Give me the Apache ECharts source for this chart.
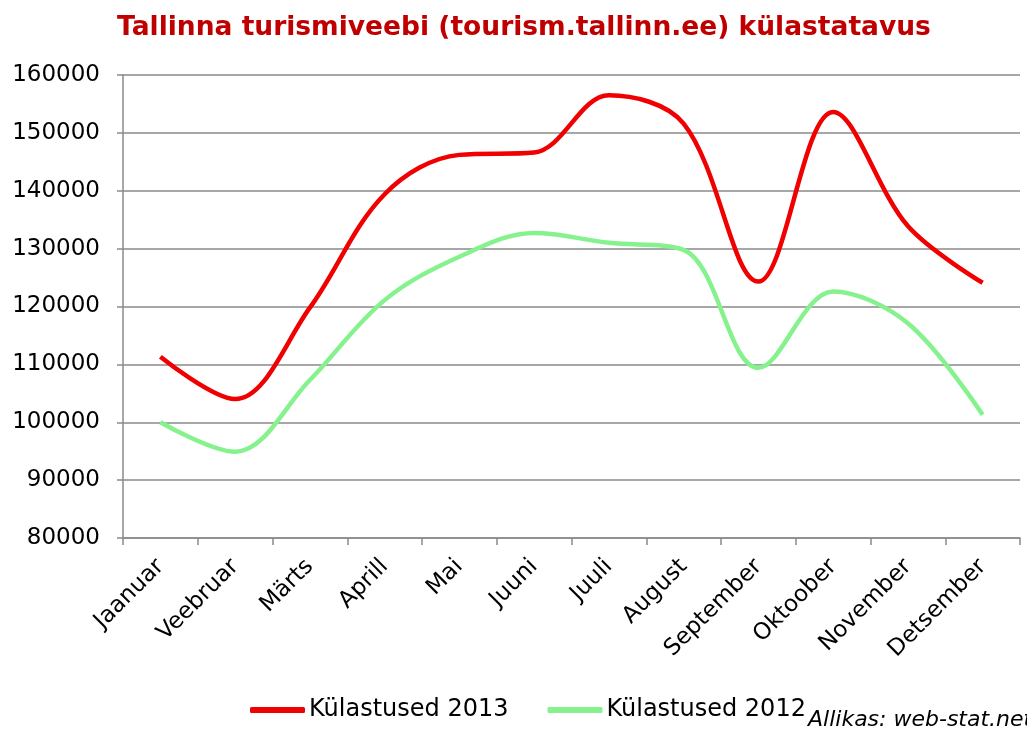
<!DOCTYPE html>
<html>
<head>
<meta charset="utf-8">
<script src="https://cdn.jsdelivr.net/npm/echarts@6/dist/echarts.min.js"></script>
<style>
  html, body { margin: 0; padding: 0; background: #fff; }
  #chart { width: 1027px; height: 731px; }
</style>
</head>
<body>
<div id="chart"></div>
<script>
const months = ["Jaanuar", "Veebruar", "Märts", "Aprill", "Mai", "Juuni",
  "Juuli", "August", "September", "Oktoober", "November", "Detsember"];
const visits2013 = [111300, 104000, 119800, 139400, 146200, 146600,
  156500, 151600, 124300, 153600, 133900, 124100];
const visits2012 = [100000, 94900, 107300, 121100, 128600, 132700,
  131000, 129800, 109400, 122600, 117100, 101300];
const yTicks = { min: 80000, max: 160000, step: 10000 };

const font = "DejaVu Sans, Verdana, sans-serif";
const gridColor = "#8a8a8a";

const chart = echarts.init(document.getElementById("chart"));
chart.setOption({
  animation: false,
  title: {
    text: "Tallinna turismiveebi (tourism.tallinn.ee) külastatavus",
    left: 112,
    top: 10,
    textStyle: { color: "#C00000", fontFamily: font, fontWeight: "bold", fontSize: 26.5 },
  },
  grid: { left: 123, right: 7, top: 75, bottom: 193 },
  legend: {
    top: 693,
    left: 245,
    itemWidth: 55,
    itemHeight: 6,
    itemGap: 39,
    icon: "roundRect",
    textStyle: { fontFamily: font, fontSize: 24, color: "#000", padding: [0, 0, 0, -1] },
    data: ["Külastused 2013", "Külastused 2012"],
  },
  xAxis: {
    type: "category",
    data: months,
    boundaryGap: true,
    axisLine: { show: true, lineStyle: { color: gridColor, width: 1.5 } },
    axisTick: { show: true, interval: 0, length: 7, lineStyle: { color: gridColor, width: 1.5 } },
    axisLabel: {
      interval: 0,
      rotate: 45,
      margin: 25,
      fontFamily: font,
      fontSize: 23,
      color: "#000",
    },
  },
  yAxis: {
    type: "value",
    min: yTicks.min,
    max: yTicks.max,
    interval: yTicks.step,
    axisLine: { show: true, lineStyle: { color: gridColor, width: 1.5 } },
    axisTick: { show: true, length: 6, inside: false, lineStyle: { color: gridColor, width: 1.5 } },
    splitLine: { show: true, lineStyle: { color: gridColor, width: 1.5 } },
    axisLabel: {
      margin: 23,
      fontFamily: font,
      fontSize: 23,
      color: "#000",
      formatter: (v) => String(v),
    },
  },
  series: [
    {
      name: "Külastused 2013",
      type: "line",
      data: visits2013,
      smooth: 0.35,
      showSymbol: false,
      color: "#F00000",
      lineStyle: { width: 4.5, color: "#F00000" },
    },
    {
      name: "Külastused 2012",
      type: "line",
      data: visits2012,
      smooth: 0.35,
      showSymbol: false,
      color: "#86F28E",
      lineStyle: { width: 4.5, color: "#86F28E" },
    },
  ],
  graphic: [
    {
      type: "text",
      left: 808,
      top: 709,
      style: { text: "Allikas: web-stat.net", fontFamily: font, fontStyle: "italic", fontSize: 22, fill: "#000" },
    },
  ],
});
</script>
</body>
</html>
